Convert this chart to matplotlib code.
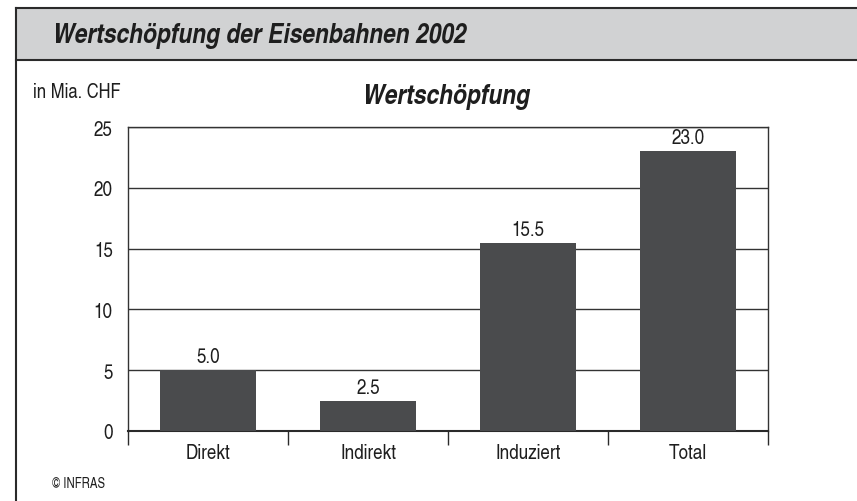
import matplotlib
matplotlib.use("Agg")
import matplotlib.pyplot as plt
from matplotlib.patches import Rectangle
from matplotlib.lines import Line2D

categories = ["Direkt", "Indirekt", "Induziert", "Total"]
values = [5.0, 2.5, 15.5, 23.0]
yticks = [0, 5, 10, 15, 20, 25]

plt.rcParams['font.family'] = ['TeX Gyre Heros Cn', 'Liberation Sans', 'DejaVu Sans']

W, H = 857, 502
fig = plt.figure(figsize=(W/100, H/100), dpi=100)

def fx(x): return x / W
def fy(y): return 1 - y / H

txt = "#1e1e1e"
lc = "#2a2a2a"
# header band
fig.patches.append(Rectangle((fx(16), fy(61)), 1 - fx(16), fy(9) - fy(61), transform=fig.transFigure,
                             facecolor="#d1d2d3", edgecolor="none", zorder=0))
fig.lines.append(Line2D([fx(16), 1], [fy(9), fy(9)], transform=fig.transFigure, color=lc, lw=1.5))
fig.lines.append(Line2D([fx(16), 1], [fy(61), fy(61)], transform=fig.transFigure, color=lc, lw=1.5))
fig.lines.append(Line2D([fx(16), fx(16)], [fy(9), 0], transform=fig.transFigure, color=lc, lw=1.5))

fig.text(fx(53), fy(43), "Wertschöpfung der Eisenbahnen 2002", fontsize=20, fontweight="bold",
         fontstyle="italic", va="baseline", ha="left", color=txt)
fig.text(fx(446), fy(104), "Wertschöpfung", fontsize=20, fontweight="bold",
         fontstyle="italic", va="baseline", ha="center", color=txt)
fig.text(fx(33), fy(98), "in Mia. CHF", fontsize=14.5, va="baseline", ha="left", color=txt)
fig.text(fx(52), fy(488), "© INFRAS", fontsize=10, va="baseline", ha="left", color=txt)

ax = fig.add_axes([fx(128), fy(432), fx(768) - fx(128), fy(128) - fy(432)])
x = range(len(categories))
ax.bar(x, values, width=0.6, color="#4a4b4d", edgecolor="none", zorder=3)
ax.set_xlim(-0.5, len(categories) - 0.5)
ax.set_ylim(0, 25)
ax.set_yticks(yticks)
ax.set_yticklabels([str(t) for t in yticks], fontsize=15, color=txt)
ax.tick_params(axis="y", length=0, pad=11)
ax.yaxis.grid(True, color="#333333", lw=1.0, zorder=0)
ax.set_axisbelow(True)
ax.set_xticks([i + 0.5 for i in range(-1, len(categories))])
ax.set_xticklabels([])
ax.set_xticks(list(x), minor=True)
ax.set_xticklabels(categories, minor=True, fontsize=15, color=txt)
ax.tick_params(axis="x", which="major", length=10, width=1, color=lc, direction="out")
ax.tick_params(axis="x", which="minor", length=0, pad=9)
for s in ax.spines.values():
    s.set_color("#333333")
    s.set_linewidth(1)
ax.spines["bottom"].set_color(lc)
ax.spines["bottom"].set_linewidth(1.5)

for i, v in enumerate(values):
    ax.text(i, v + 1.1, f"{v:.1f}", ha="center", va="center", fontsize=15, color=txt)

fig.savefig("out.png", dpi=100)
